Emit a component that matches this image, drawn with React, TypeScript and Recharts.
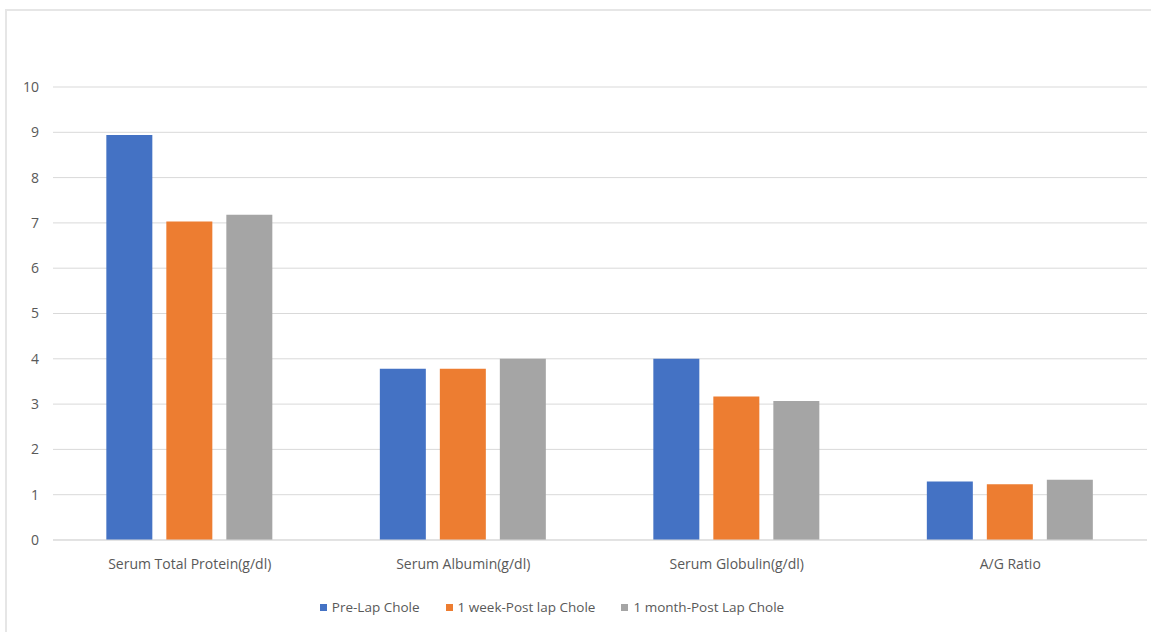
import React from 'react'
import { BarChart, Bar, XAxis, YAxis, CartesianGrid } from 'recharts'

const categories = ['Serum Total Protein(g/dl)', 'Serum Albumin(g/dl)', 'Serum Globulin(g/dl)', 'A/G Ratio']
const preLap = [8.94, 3.78, 4.0, 1.29]
const weekPost = [7.03, 3.78, 3.17, 1.23]
const monthPost = [7.18, 4.0, 3.07, 1.33]
const yTicks = [0, 1, 2, 3, 4, 5, 6, 7, 8, 9, 10]

const SERIES = [
  { key: 'pre', name: 'Pre-Lap Chole', color: '#4472C4' },
  { key: 'week', name: '1 week-Post lap Chole', color: '#ED7D31' },
  { key: 'month', name: '1 month-Post Lap Chole', color: '#A5A5A5' },
]

const data = categories.map((name, i) => ({
  name,
  pre: preLap[i],
  week: weekPost[i],
  month: monthPost[i],
}))

const FONT = '"Open Sans", "Noto Sans", sans-serif'
const TEXT = '#595959'

function LegendRow() {
  return (
    <div style={{
      position: 'absolute', left: 0, top: 597, width: 1104,
      display: 'flex', justifyContent: 'center', gap: 26,
      fontFamily: FONT, fontSize: 13.5, color: TEXT, lineHeight: '20px',
    }}>
      {SERIES.map(s => (
        <span key={s.key} style={{ display: 'flex', alignItems: 'center' }}>
          <span style={{ width: 7, height: 7, background: s.color, marginRight: 5, display: 'inline-block' }} />
          {s.name}
        </span>
      ))}
    </div>
  )
}

export default function App() {
  return (
    <div style={{ position: 'absolute', left: 0, top: 0, width: 1151, height: 632, background: '#fff', overflow: 'hidden' }}>
      <div style={{ position: 'absolute', left: 5, top: 9, width: 1170, height: 660, border: '2px solid #e6e6e6', boxSizing: 'border-box' }} />
      <div style={{ position: 'absolute', left: 0, top: 0 }}>
        <BarChart
          width={1151}
          height={632}
          data={data}
          margin={{ top: 87, right: 4, bottom: 52, left: 0 }}
          barCategoryGap="19.5%"
          barGap={14}
        >
          <CartesianGrid vertical={false} stroke="#d9d9d9" />
          <XAxis
            dataKey="name"
            height={40}
            axisLine={{ stroke: '#d9d9d9' }}
            tickLine={false}
            tick={{ fontSize: 14, fill: TEXT, fontFamily: FONT }}
            tickMargin={13}
            interval={0}
          />
          <YAxis
            domain={[0, 10]}
            ticks={yTicks}
            width={53}
            axisLine={false}
            tickLine={false}
            tickSize={0}
            tickMargin={14}
            tick={{ fontSize: 14, fill: TEXT, fontFamily: FONT }}
          />
          {SERIES.map(s => (
            <Bar key={s.key} dataKey={s.key} name={s.name} fill={s.color} isAnimationActive={false} />
          ))}
        </BarChart>
      </div>
      <LegendRow />
    </div>
  )
}
